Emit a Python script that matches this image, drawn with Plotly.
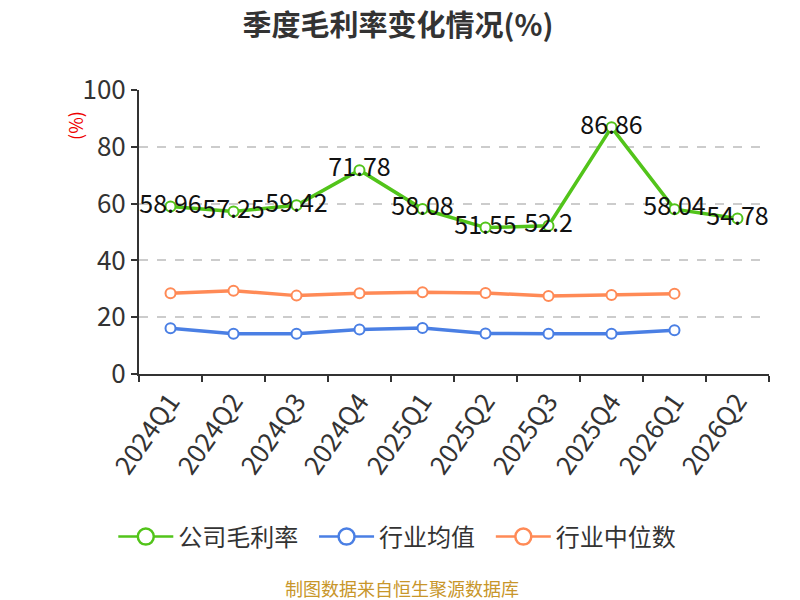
import plotly.graph_objects as go

# 季度数据
quarters = ["2024Q1", "2024Q2", "2024Q3", "2024Q4", "2025Q1",
            "2025Q2", "2025Q3", "2025Q4", "2026Q1", "2026Q2"]
company_margin = [58.96, 57.25, 59.42, 71.78, 58.08, 51.55, 52.2, 86.86, 58.04, 54.78]
industry_avg = [16.1, 14.2, 14.2, 15.7, 16.2, 14.3, 14.2, 14.2, 15.4, None]
industry_median = [28.4, 29.3, 27.6, 28.4, 28.8, 28.5, 27.5, 27.8, 28.3, None]

series_names = ["公司毛利率", "行业均值", "行业中位数"]

FONT = "Noto Sans CJK SC, Noto Sans, sans-serif"
GREEN = "#52c41a"
BLUE = "#4a7fe4"
ORANGE = "#ff8a56"
colors = [GREEN, BLUE, ORANGE]

fig = go.Figure()

fig.add_trace(go.Scatter(
    x=quarters, y=company_margin, name=series_names[0], legendgroup="g0", showlegend=False,
    mode="lines+markers+text",
    line=dict(color=GREEN, width=3.5),
    marker=dict(symbol="circle", size=10, color="white", line=dict(color=GREEN, width=2)),
    text=[f"{v:g}" for v in company_margin],
    textposition="middle center",
    textfont=dict(size=25, color="#111", family=FONT),
    cliponaxis=False,
))
fig.add_trace(go.Scatter(
    x=quarters, y=industry_avg, name=series_names[1], legendgroup="g1", showlegend=False,
    mode="lines+markers",
    line=dict(color=BLUE, width=3.5),
    marker=dict(symbol="circle", size=10, color="white", line=dict(color=BLUE, width=2)),
))
fig.add_trace(go.Scatter(
    x=quarters, y=industry_median, name=series_names[2], legendgroup="g2", showlegend=False,
    mode="lines+markers",
    line=dict(color=ORANGE, width=3.5),
    marker=dict(symbol="circle", size=10, color="white", line=dict(color=ORANGE, width=2)),
))

# 图例单独画，圆圈更大一些
pad = ["\u00a0\u00a0", "\u00a0\u00a0", ""]
for i, name in enumerate(series_names):
    fig.add_trace(go.Scatter(
        x=[None], y=[None], name=name + pad[i], legendgroup=f"g{i}",
        mode="lines+markers",
        line=dict(color=colors[i], width=2.5),
        marker=dict(symbol="circle", size=16, color="white", line=dict(color=colors[i], width=2.5)),
    ))

# 页面 body 有 8px 默认边距，这里的边距已经扣掉
fig.update_layout(
    width=800, height=600,
    margin=dict(l=131, r=39, t=82, b=234),
    paper_bgcolor="white", plot_bgcolor="white",
    font=dict(family=FONT, color="#333"),
    title=dict(text="<b>季度毛利率变化情况(%)</b>", x=0.4875, xanchor="center",
               y=0.97, yanchor="middle", font=dict(size=29, color="#333", family=FONT)),
    showlegend=True,
    legend=dict(orientation="h", x=0.41, xanchor="center", y=-0.574, yanchor="middle",
                font=dict(size=24, color="#333", family=FONT), itemwidth=55),
    annotations=[
        dict(text="(%)", xref="paper", yref="paper", x=-0.1016, y=0.877,
             xanchor="center", yanchor="middle",
             showarrow=False, textangle=-90, font=dict(size=18, color="#ee0000", family=FONT)),
        dict(text="制图数据来自恒生聚源数据库", xref="paper", yref="paper", x=0.4175, y=-0.754,
             xanchor="center", yanchor="middle", showarrow=False,
             font=dict(size=18, color="#c8962a", family=FONT)),
    ],
)

fig.update_xaxes(
    type="category", range=[-0.5, 9.5], tickangle=-55, tickson="boundaries",
    ticks="outside", ticklen=6,
    tickwidth=2, tickcolor="#333", showline=True, linecolor="#333", linewidth=2,
    showgrid=False, tickfont=dict(size=26, color="#333", family=FONT),
)
fig.update_yaxes(
    range=[0, 100], tickvals=[0, 20, 40, 60, 80, 100], ticks="outside", ticklen=6,
    tickwidth=2, tickcolor="#333", showline=True, linecolor="#333", linewidth=2,
    showgrid=True, gridcolor="#cccccc", griddash="dash", gridwidth=1.5, zeroline=False,
    tickfont=dict(size=26, color="#333", family=FONT),
)

fig.write_html("out.html")
